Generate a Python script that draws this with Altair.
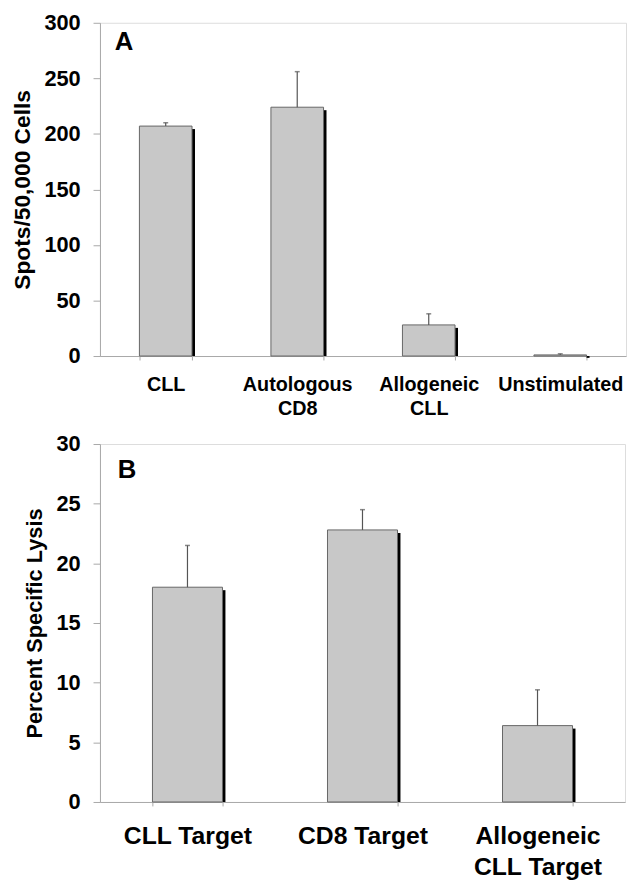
import altair as alt
import pandas as pd

# Panel A data
a_categories = ["CLL", "Autologous\nCD8", "Allogeneic\nCLL", "Unstimulated"]
a_values = [207, 224, 28, 1]
a_errors = [3, 32, 10, 1]

# Panel B data
b_categories = ["CLL Target", "CD8 Target", "Allogeneic\nCLL Target"]
b_values = [18.0, 22.8, 6.4]
b_errors = [3.5, 1.7, 3.0]

FONT = "Liberation Sans"
FRAME = "#a8a8a8"


def panel(cats, vals, errs, ytitle, ymax, ystep, letter, width, height,
          xlabel_size, xlabel_pad, xline, letter_x, letter_y, title_size):
    df = pd.DataFrame({"cat": cats, "value": vals, "err": errs})
    df["upper"] = df["value"] + df["err"]
    df["zero"] = 0
    n = len(cats)
    step = width / n
    bw = step * 0.4

    xenc = alt.X(
        "cat:N",
        sort=cats,
        scale=alt.Scale(paddingInner=0.6, paddingOuter=0.3),
        axis=alt.Axis(
            title=None,
            labelAngle=0,
            labelFont=FONT,
            labelFontWeight="bold",
            labelFontSize=xlabel_size,
            labelColor="black",
            labelPadding=xlabel_pad,
            labelLineHeight=xline,
            labelExpr="split(datum.label, '\\n')",
            tickBand="extent",
            tickSize=4,
            tickColor=FRAME,
            domainColor=FRAME,
            labelBaseline="top",
        ),
    )
    yscale = alt.Scale(domain=[0, ymax], nice=False)
    yaxis = alt.Axis(
        title=ytitle,
        values=list(range(0, ymax + 1, ystep)),
        labelFont=FONT,
        labelFontWeight="bold",
        labelFontSize=22,
        labelColor="black",
        labelPadding=13,
        tickSize=7,
        tickColor=FRAME,
        domainColor=FRAME,
        grid=False,
        titleFont=FONT,
        titleFontWeight="bold",
        titleFontSize=title_size,
        titleColor="black",
        titlePadding=10,
    )

    base = alt.Chart(df)
    shadow = base.mark_rule(color="black", strokeWidth=3, xOffset=bw / 2 + 1.5, yOffset=3).encode(
        x=xenc, y=alt.Y("value:Q", scale=yscale, axis=yaxis), y2="zero:Q"
    )
    bars = base.mark_bar(fill="#c8c8c8", stroke="#666666", strokeWidth=1).encode(
        x=xenc, y=alt.Y("value:Q", scale=yscale, axis=yaxis)
    )
    err = base.mark_rule(color="#555555", strokeWidth=1.2).encode(
        x=xenc, y=alt.Y("value:Q", scale=yscale, axis=yaxis), y2="upper:Q"
    )
    cap = base.mark_tick(color="#555555", size=5, thickness=1.5, orient="horizontal").encode(
        x=xenc, y=alt.Y("upper:Q", scale=yscale, axis=yaxis)
    )
    lab = alt.Chart(pd.DataFrame({"t": [letter]})).mark_text(
        align="left", baseline="alphabetic", font=FONT, fontWeight="bold",
        fontSize=26, color="black"
    ).encode(text="t:N", x=alt.value(letter_x), y=alt.value(letter_y))

    return alt.layer(shadow, bars, err, cap, lab).properties(width=width, height=height)


chart_a = panel(a_categories, a_values, a_errors, "Spots/50,000 Cells", 300, 50, "A",
                532, 337, 20, 15, 24, 15, 28, 23)
chart_b = panel(b_categories, b_values, b_errors, "Percent Specific Lysis", 30, 5, "B",
                531, 362, 25, 18, 31, 18, 34, 22)

chart = alt.vconcat(chart_a, chart_b, spacing=13).properties(
    padding={"left": 2, "top": -2, "right": 0, "bottom": 0}
).configure_view(stroke=FRAME, strokeWidth=1).configure(background="white")

chart.save("out.html", embed_options={"renderer": "svg", "actions": False})
